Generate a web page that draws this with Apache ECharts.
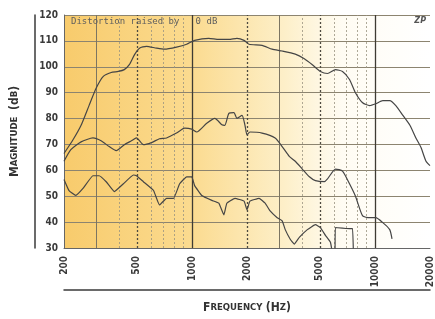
<!DOCTYPE html>
<html>
<head>
<meta charset="utf-8">
<script src="https://cdn.jsdelivr.net/npm/echarts@6/dist/echarts.min.js"></script>
<style>
  html, body { margin: 0; padding: 0; background: #fff; }
  #chart { width: 435px; height: 319px; }
</style>
</head>
<body>
<div id="chart"></div>
<script>
// frequency ticks (Hz) and dB ticks
const freqLabels = [200, 500, 1000, 2000, 5000, 10000, 20000];
const gridMajor = [1000, 10000];
const gridHalf = [500, 2000, 5000];
const gridThird = [300, 3000];
const gridMinor = [400, 600, 700, 800, 900, 4000, 6000, 7000, 8000, 9000];

// fundamental response [Hz, dB]
const fundamental = [
  [200, 66.5], [224, 71.8], [248, 77.4], [274, 85.0], [300, 91.8], [328, 96.3],
  [362, 97.8], [396, 98.2], [427, 98.9], [455, 100.8], [485, 104.6], [517, 107.2],
  [564, 107.9], [640, 107.2], [708, 106.8], [824, 107.6], [936, 108.7], [1035, 110.2],
  [1236, 111.0], [1403, 110.6], [1592, 110.6], [1762, 111.0], [1927, 110.2], [2051, 108.7],
  [2417, 108.3], [2742, 106.8], [3113, 106.1], [3670, 104.9], [4113, 103.1], [4550, 100.8],
  [5036, 98.2], [5508, 97.4], [6093, 98.9], [6652, 98.2], [7264, 95.1], [7840, 89.9],
  [8570, 86.1], [9355, 85.0], [10100, 85.7], [11040, 86.9], [12050, 86.9], [13010, 85.0],
  [14220, 81.2], [15530, 77.4], [16750, 72.5], [17860, 68.8], [19020, 63.5], [20000, 61.8]
];

// 2nd harmonic
const secondHarmonic = [
  [200, 63.5], [218, 68.0], [248, 71.0], [288, 72.5], [319, 71.4], [353, 69.2],
  [386, 67.6], [427, 69.9], [467, 71.4], [498, 72.5], [543, 69.9], [601, 70.7],
  [665, 72.2], [727, 72.5], [824, 74.4], [913, 76.3], [998, 75.9], [1062, 74.8],
  [1205, 78.2], [1334, 80.1], [1458, 77.6], [1513, 77.4], [1592, 82.0], [1697, 82.3],
  [1762, 80.1], [1878, 81.2], [1950, 77.4], [2000, 73.7], [2075, 74.8], [2417, 74.4],
  [2850, 72.5], [3113, 69.2], [3404, 65.4], [3670, 63.5], [4010, 60.5], [4385, 57.5],
  [4730, 56.0], [5299, 55.6], [5508, 56.7], [6093, 60.5], [6652, 59.7], [7264, 54.8],
  [7840, 49.9], [8570, 42.4], [9355, 41.7], [10100, 41.7], [11040, 39.8], [12050, 37.1],
  [12400, 33.5]
];

// 3rd harmonic
const thirdHarmonic = [
  [200, 56.5], [213, 52.2], [232, 50.3], [254, 53.0], [288, 57.9], [311, 57.9],
  [340, 55.6], [377, 51.8], [422, 54.8], [479, 58.2], [498, 57.9], [543, 55.6],
  [617, 52.2], [665, 46.6], [727, 49.2], [794, 49.2], [857, 54.8], [936, 57.5],
  [998, 57.5], [1035, 54.1], [1132, 50.3], [1285, 48.4], [1403, 47.3], [1495, 42.8],
  [1552, 47.3], [1718, 49.2], [1927, 48.1], [2000, 44.7], [2075, 48.1], [2328, 49.2],
  [2512, 47.3], [2675, 44.3], [2924, 41.7], [3113, 40.5], [3236, 37.1], [3446, 33.4],
  [3625, 31.5], [3862, 34.1], [4274, 37.1], [4730, 39.0], [5036, 37.9], [5365, 34.9],
  [5716, 32.2], [5940, 26], [6050, 26], [6080, 37.9], [7264, 37.5], [7550, 37.5],
  [7640, 26]
];

const chart = echarts.init(document.getElementById('chart'), null, { renderer: 'canvas' });

const curveStyle = { color: '#454545', width: 1.2 };
const condensed = "'DejaVu Sans Condensed', 'DejaVu Sans', sans-serif";

function vline(list, style) {
  return list.map((v) => ({ xAxis: v, lineStyle: style }));
}

// small-caps look for the axis titles
const capsRich = {
  a: { fontFamily: condensed, fontWeight: 'bold', fontSize: 12, color: '#333' },
  b: { fontFamily: condensed, fontWeight: 'bold', fontSize: 9.5, color: '#333' }
};

chart.setOption({
  animation: false,
  title: [
    {
      text: 'Distortion raised by   0 dB',
      left: 66, top: 12,
      textStyle: { fontFamily: "'DejaVu Sans Mono', monospace", fontSize: 9, fontWeight: 'normal', color: '#5e5e5e' }
    },
    {
      text: 'ZP',
      right: 4, top: 12,
      textStyle: { fontFamily: "'DejaVu Sans', sans-serif", fontSize: 8, fontWeight: 'bold', fontStyle: 'italic', color: '#555' }
    }
  ],
  grid: {
    left: 64, right: 2, top: 15, bottom: 61,
    show: true,
    borderWidth: 0,
    backgroundColor: new echarts.graphic.LinearGradient(0, 0, 1, 0, [
      { offset: 0, color: '#f8cb6c' },
      { offset: 0.35, color: '#fbdb90' },
      { offset: 0.6, color: '#fdefc8' },
      { offset: 0.76, color: '#fffcf3' },
      { offset: 1, color: '#ffffff' }
    ])
  },
  xAxis: [
    {
      type: 'log', logBase: 10, min: 200, max: 20000,
      axisLine: { show: true, onZero: false, lineStyle: { color: '#666', width: 1 } },
      axisTick: { show: false },
      splitLine: { show: false },
      axisLabel: {
        customValues: freqLabels,
        rotate: 90, margin: 8,
        fontFamily: condensed,
        fontWeight: 'bold', fontSize: 10, color: '#3a3a3a',
        formatter: (v) => String(Math.round(v))
      }
    },
    {
      type: 'log', logBase: 10, min: 200, max: 20000,
      position: 'bottom', offset: 42,
      axisLine: { show: true, onZero: false, lineStyle: { color: '#3a3a3a', width: 1.5 } },
      axisTick: { show: false }, axisLabel: { show: false }, splitLine: { show: false },
      name: '{a|F}{b|REQUENCY} {a|(H}{b|Z}{a|)}',
      nameLocation: 'middle', nameGap: 12,
      nameTextStyle: { rich: capsRich }
    }
  ],
  yAxis: [
    {
      type: 'value', min: 30, max: 120, interval: 10,
      axisLine: { show: true, lineStyle: { color: '#666', width: 1 } },
      axisTick: { show: false },
      splitLine: { show: true, lineStyle: { color: '#8c8470', width: 1 } },
      axisLabel: {
        margin: 6,
        fontFamily: condensed,
        fontWeight: 'bold', fontSize: 10, color: '#3a3a3a'
      }
    },
    {
      type: 'value', min: 30, max: 120, position: 'left', offset: 29,
      axisLine: { show: true, lineStyle: { color: '#3a3a3a', width: 1.5 } },
      axisTick: { show: false }, axisLabel: { show: false }, splitLine: { show: false },
      name: '{a|M}{b|AGNITUDE}  {a|(d}{b|B}{a|)}',
      nameLocation: 'middle', nameGap: 14, nameRotate: 90,
      nameTextStyle: { rich: capsRich }
    }
  ],
  series: [
    {
      name: 'Fundamental', type: 'line', data: fundamental,
      showSymbol: false, smooth: 0.2, lineStyle: curveStyle, z: 5,
      markLine: {
        silent: true, symbol: 'none', label: { show: false }, z: 1,
        data: [].concat(
          vline(gridMinor, { color: '#9a9380', width: 0.8, type: [2, 2] }),
          vline(gridThird, { color: '#7c7562', width: 1, type: 'solid' }),
          vline(gridHalf, { color: '#4e4a40', width: 1.3, type: [2, 2] }),
          vline(gridMajor, { color: '#3e3b34', width: 1.3, type: 'solid' })
        )
      }
    },
    {
      name: '2nd harmonic', type: 'line', data: secondHarmonic,
      showSymbol: false, smooth: 0.2, lineStyle: curveStyle, z: 5
    },
    {
      name: '3rd harmonic', type: 'line', data: thirdHarmonic,
      showSymbol: false, smooth: 0.1, lineStyle: curveStyle, z: 5
    }
  ]
});
</script>
</body>
</html>
